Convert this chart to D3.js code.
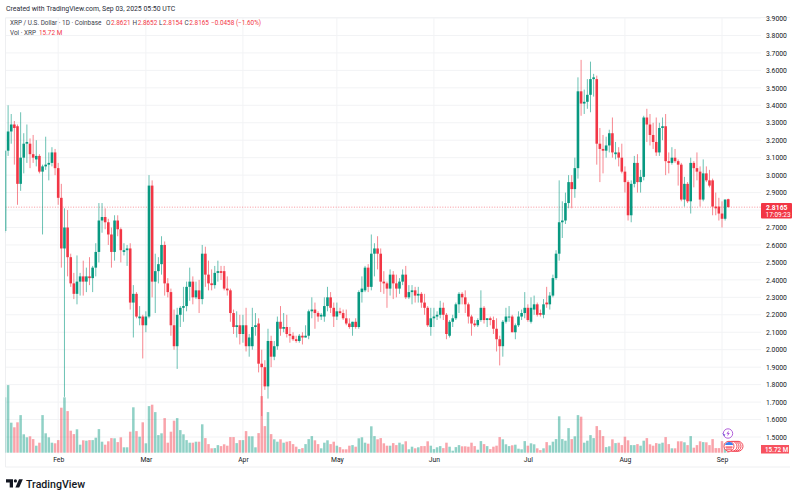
<!DOCTYPE html>
<html>
<head>
<meta charset="utf-8">
<script src="https://cdn.jsdelivr.net/npm/d3@7/dist/d3.min.js"></script>
<style>
html,body{margin:0;padding:0;background:#fff;}
svg{display:block;}
text{font-family:Roboto,"Liberation Sans",sans-serif;}
</style>
</head>
<body>
<div id="chart"></div>
<script>
// daily candles, Jan 15 2025 to Sep 03 2025. ten per line
var firstDay = "2025-01-15";
var opens = [
2.68,3.14,3.25,3.29,3.28,2.95,3.10,3.18,3.18,3.12,
3.09,3.11,3.02,3.05,3.06,3.07,3.13,3.04,2.87,2.58,
2.70,2.53,2.38,2.32,2.39,2.42,2.39,2.42,2.41,2.47,
2.56,2.74,2.76,2.73,2.66,2.56,2.74,2.69,2.56,2.57,
2.58,2.27,2.32,2.18,2.19,2.14,2.19,2.94,2.39,2.45,
2.49,2.60,2.38,2.33,2.14,2.02,2.20,2.24,2.25,2.36,
2.39,2.30,2.34,2.29,2.55,2.43,2.38,2.37,2.44,2.45,
2.45,2.35,2.34,2.21,2.13,2.14,2.09,2.14,2.02,2.02,
2.13,2.15,1.92,1.90,1.79,2.05,1.96,2.02,2.16,2.12,
2.13,2.09,2.08,2.06,2.05,2.08,2.07,2.08,2.22,2.23,
2.21,2.19,2.19,2.25,2.30,2.24,2.19,2.22,2.21,2.18,
2.15,2.13,2.16,2.13,2.33,2.34,2.47,2.36,2.55,2.58,
2.55,2.39,2.38,2.35,2.43,2.38,2.35,2.39,2.43,2.30,
2.33,2.34,2.31,2.32,2.27,2.24,2.13,2.18,2.19,2.20,
2.24,2.20,2.08,2.16,2.18,2.26,2.32,2.30,2.26,2.19,
2.15,2.14,2.17,2.24,2.17,2.18,2.17,2.12,2.06,2.02,
2.16,2.19,2.19,2.10,2.14,2.19,2.21,2.24,2.16,2.23,
2.26,2.21,2.20,2.27,2.26,2.31,2.41,2.55,2.73,2.74,
2.84,2.96,2.92,3.04,3.48,3.41,3.42,3.46,3.55,3.55,
3.18,3.15,3.14,3.17,3.24,3.12,3.13,3.10,3.02,2.96,
2.77,2.95,3.07,2.96,2.99,3.33,3.29,3.23,3.19,3.13,
3.27,3.28,3.08,3.07,3.10,3.08,3.06,2.86,2.95,2.85,
3.07,3.04,3.02,2.86,3.01,2.97,2.97,2.82,2.82,2.78,
2.75,2.8621];
var highs = [
3.14,3.40,3.35,3.31,3.29,3.36,3.24,3.29,3.21,3.23,
3.20,3.12,3.06,3.22,3.13,3.16,3.15,3.07,2.95,2.81,
2.80,2.55,2.44,2.54,2.44,2.51,2.47,2.53,2.48,2.61,
2.84,2.84,2.81,2.75,2.70,2.77,2.77,2.70,2.61,2.60,
2.61,2.37,2.33,2.25,2.20,2.22,3.00,2.97,2.55,2.53,
2.65,2.62,2.41,2.35,2.23,2.24,2.25,2.36,2.39,2.47,
2.42,2.39,2.40,2.60,2.59,2.51,2.46,2.48,2.51,2.48,
2.48,2.42,2.35,2.23,2.22,2.20,2.20,2.24,2.09,2.24,
2.21,2.18,2.00,1.94,2.12,2.08,2.05,2.19,2.25,2.21,
2.20,2.13,2.10,2.08,2.09,2.10,2.14,2.23,2.30,2.27,
2.22,2.21,2.30,2.36,2.33,2.27,2.27,2.24,2.23,2.23,
2.18,2.16,2.18,2.34,2.42,2.48,2.49,2.66,2.61,2.65,
2.58,2.45,2.39,2.46,2.45,2.43,2.41,2.46,2.48,2.37,
2.37,2.36,2.36,2.33,2.32,2.25,2.24,2.24,2.22,2.28,
2.27,2.21,2.17,2.20,2.27,2.33,2.33,2.34,2.27,2.20,
2.17,2.18,2.34,2.25,2.18,2.19,2.19,2.18,2.08,2.17,
2.24,2.25,2.20,2.15,2.22,2.23,2.33,2.26,2.30,2.31,
2.27,2.23,2.29,2.36,2.33,2.43,2.57,2.97,2.85,2.90,
3.00,3.00,3.10,3.56,3.66,3.49,3.55,3.65,3.58,3.57,
3.27,3.23,3.22,3.26,3.33,3.19,3.16,3.18,3.05,2.97,
2.97,3.11,3.12,3.03,3.34,3.38,3.35,3.30,3.33,3.30,
3.33,3.35,3.13,3.16,3.15,3.09,3.07,2.99,2.96,3.10,
3.08,3.13,3.05,3.09,3.05,3.03,2.98,2.90,2.87,2.85,
2.86,2.8652];
var lows = [
2.67,3.11,3.18,3.06,2.83,2.91,3.01,3.07,3.04,3.07,
3.05,3.01,2.66,3.03,2.97,3.05,3.00,2.83,2.47,1.73,
2.42,2.36,2.29,2.26,2.31,2.31,2.33,2.37,2.33,2.42,
2.50,2.67,2.69,2.60,2.47,2.51,2.65,2.50,2.54,2.48,
2.23,2.07,2.18,2.14,1.95,2.10,2.18,2.30,2.21,2.38,
2.43,2.31,2.30,2.08,2.00,1.89,2.13,2.16,2.22,2.28,
2.26,2.29,2.21,2.26,2.36,2.34,2.34,2.35,2.39,2.40,
2.34,2.31,2.16,2.09,2.07,2.03,2.04,1.99,1.96,2.00,
2.08,1.87,1.62,1.77,1.72,1.90,1.94,2.00,2.08,2.10,
2.07,2.04,2.05,2.04,2.04,2.03,2.07,2.06,2.18,2.12,
2.16,2.17,2.16,2.22,2.21,2.13,2.17,2.20,2.17,2.14,
2.12,2.08,2.12,2.12,2.27,2.33,2.33,2.34,2.42,2.46,
2.33,2.32,2.24,2.31,2.29,2.30,2.32,2.37,2.29,2.29,
2.26,2.27,2.27,2.24,2.20,2.13,2.08,2.13,2.17,2.18,
2.17,2.06,2.07,2.13,2.17,2.21,2.26,2.21,2.15,2.08,
2.13,2.13,2.16,2.15,2.13,2.14,2.09,1.99,1.91,1.96,
2.15,2.16,2.10,2.06,2.13,2.17,2.18,2.16,2.15,2.20,
2.19,2.19,2.18,2.24,2.23,2.30,2.40,2.51,2.64,2.72,
2.81,2.81,2.87,2.98,3.34,3.35,3.38,3.36,3.45,3.06,
2.96,3.01,3.10,3.13,3.10,3.09,3.05,3.01,2.90,2.74,
2.73,2.93,2.90,2.90,2.97,3.19,3.17,3.15,3.11,3.11,
3.20,3.00,3.01,3.06,3.07,2.94,2.85,2.82,2.84,2.78,
2.93,2.97,2.82,2.85,2.96,2.93,2.77,2.77,2.74,2.70,
2.74,2.8154];
var closes = [
3.14,3.25,3.29,3.27,2.95,3.10,3.18,3.19,3.12,3.10,
3.11,3.02,3.05,3.06,3.07,3.13,3.04,2.87,2.58,2.70,
2.53,2.38,2.32,2.39,2.42,2.39,2.42,2.41,2.47,2.56,
2.74,2.76,2.73,2.66,2.56,2.74,2.69,2.57,2.57,2.58,
2.27,2.32,2.19,2.19,2.14,2.19,2.94,2.39,2.45,2.49,
2.60,2.38,2.33,2.14,2.02,2.20,2.24,2.25,2.36,2.39,
2.30,2.34,2.29,2.55,2.43,2.38,2.37,2.44,2.45,2.44,
2.35,2.34,2.21,2.13,2.14,2.09,2.14,2.02,2.07,2.13,
2.14,1.92,1.90,1.79,2.05,1.96,2.02,2.16,2.12,2.13,
2.09,2.08,2.06,2.05,2.08,2.07,2.08,2.22,2.23,2.21,
2.19,2.20,2.25,2.30,2.24,2.19,2.22,2.21,2.18,2.15,
2.13,2.16,2.13,2.33,2.35,2.47,2.36,2.55,2.58,2.55,
2.39,2.38,2.35,2.43,2.38,2.35,2.39,2.43,2.30,2.33,
2.34,2.31,2.32,2.27,2.24,2.14,2.18,2.19,2.20,2.24,
2.20,2.09,2.16,2.18,2.26,2.32,2.30,2.26,2.19,2.15,
2.14,2.17,2.24,2.17,2.18,2.17,2.12,2.06,2.02,2.16,
2.19,2.19,2.10,2.14,2.19,2.21,2.24,2.17,2.24,2.26,
2.20,2.20,2.26,2.26,2.31,2.41,2.55,2.73,2.74,2.84,
2.96,2.92,3.04,3.48,3.41,3.42,3.46,3.55,3.56,3.18,
3.15,3.14,3.17,3.24,3.13,3.13,3.10,3.02,2.96,2.77,
2.95,3.07,2.96,2.99,3.33,3.29,3.23,3.19,3.13,3.27,
3.28,3.08,3.07,3.10,3.08,3.06,2.86,2.95,2.85,3.07,
3.04,3.02,2.86,3.01,2.97,2.94,2.82,2.81,2.78,2.75,
2.86,2.8165];
// volume in millions
var volumes = [
277,338,150,127,152,188,92,77,82,68,
35,50,188,97,77,50,47,63,225,277,
208,110,93,117,40,62,60,63,63,75,
118,55,40,57,73,72,53,77,27,27,
105,227,108,80,152,47,233,240,203,88,
97,173,50,105,160,173,113,92,63,50,
50,55,55,142,73,43,22,23,38,33,
42,35,78,78,48,63,63,108,82,82,
27,98,283,133,203,93,67,55,67,50,
55,58,43,30,18,23,43,68,83,62,
43,22,50,62,43,55,35,28,17,17,
35,38,30,72,77,50,45,132,83,67,
73,47,35,35,48,38,50,42,57,17,
30,22,27,33,33,57,35,18,27,33,
23,50,30,10,28,38,32,32,30,50,
33,15,58,43,33,18,30,35,78,67,
42,33,37,40,20,17,58,35,47,42,
22,13,22,53,37,55,68,182,68,60,
123,68,82,188,180,50,60,88,73,133,
113,83,28,32,67,48,50,38,80,62,
38,38,43,35,60,73,42,35,48,45,
50,78,43,22,22,57,57,52,38,83,
25,38,57,53,52,38,68,23,23,58,
47,15.72];
var priceTicks = [1.5,1.6,1.7,1.8,1.9,2.0,2.1,2.2,2.3,2.4,2.5,2.6,2.7,2.9,3.0,3.1,3.2,3.3,3.4,3.5,3.6,3.7,3.8,3.9];
var gridPrices = [1.5,1.6,1.7,1.8,1.9,2.0,2.1,2.2,2.3,2.4,2.5,2.6,2.7,2.8,2.9,3.0,3.1,3.2,3.3,3.4,3.5,3.6,3.7,3.8,3.9];
var monthTicks = ["2025-02-01","2025-03-01","2025-04-01","2025-05-01","2025-06-01","2025-07-01","2025-08-01","2025-09-01"];
var lastPrice = 2.8165;
var lastVolume = 15.72;
var countdown = "17:09:23";

var upColor = "#089981", downColor = "#f23645";
var width = 800, height = 500;
var left = 5.5, right = 761, top_ = 18, volBase = 452.7, bottom = 467;

var svg = d3.select("#chart").append("svg").attr("width", width).attr("height", height);

var parse = d3.utcParse("%Y-%m-%d");
var monthDates = monthTicks.map(parse);
var x = d3.scaleUtc().domain([monthDates[0], monthDates[7]]).range([58.2, 722]);
var y = d3.scaleLinear().domain([1.5, 3.9]).range([437, 18]);
var yVol = d3.scaleLinear().domain([0, 283]).range([volBase, volBase - 56.6]);

var candles = closes.map(function(c, i) {
    return {date: d3.utcDay.offset(parse(firstDay), i), o: opens[i], h: highs[i], l: lows[i], c: c, v: volumes[i]};
});

svg.append("defs").append("clipPath").attr("id", "plot")
    .append("rect").attr("x", left).attr("y", top_).attr("width", right - left).attr("height", bottom - top_);

// frame and grid
var grid = svg.append("g").attr("stroke", "#f2f3f5").attr("stroke-width", 1);
grid.selectAll(".h").data(gridPrices).enter().append("line")
    .attr("x1", left).attr("x2", right).attr("y1", function(d) {return y(d);}).attr("y2", function(d) {return y(d);});
grid.selectAll(".v").data(monthDates).enter().append("line")
    .attr("y1", top_).attr("y2", 454).attr("x1", function(d) {return x(d);}).attr("x2", function(d) {return x(d);});
grid.append("path").attr("fill", "none").attr("stroke", "#eeeff1")
    .attr("d", "M5.5 18V467H790");
grid.append("line").attr("x1", 5.5).attr("x2", 790).attr("y1", 17.5).attr("y2", 17.5);

var plot = svg.append("g").attr("clip-path", "url(#plot)");

// volume
plot.selectAll(".vol").data(candles).enter().append("rect")
    .attr("x", function(d) {return x(d.date) - 1.25;})
    .attr("width", 2.5)
    .attr("y", function(d) {return yVol(d.v);})
    .attr("height", function(d) {return volBase - yVol(d.v);})
    .attr("fill", function(d) {return d.c >= d.o ? upColor : downColor;})
    .attr("opacity", 0.45);

// last price line
plot.append("line").attr("x1", left).attr("x2", right)
    .attr("y1", y(lastPrice)).attr("y2", y(lastPrice))
    .attr("stroke", downColor).attr("stroke-width", 0.7).attr("stroke-dasharray", "1,1.6").attr("opacity", 0.75);

// candles
plot.selectAll(".wick").data(candles).enter().append("line")
    .attr("x1", function(d) {return x(d.date);})
    .attr("x2", function(d) {return x(d.date);})
    .attr("y1", function(d) {return y(d.h);})
    .attr("y2", function(d) {return y(d.l);})
    .attr("stroke-width", 0.6)
    .attr("stroke", function(d) {return d.c >= d.o ? upColor : downColor;});
plot.selectAll(".body").data(candles).enter().append("rect")
    .attr("x", function(d) {return x(d.date) - 1.3;})
    .attr("width", 2.6)
    .attr("y", function(d) {return y(Math.max(d.o, d.c));})
    .attr("height", function(d) {return Math.max(1, Math.abs(y(d.o) - y(d.c)));})
    .attr("fill", function(d) {return d.c >= d.o ? upColor : downColor;});

// axes
var yAxis = d3.axisRight(y).tickValues(priceTicks).tickFormat(d3.format(".4f")).tickSize(0).tickPadding(0);
var gy = svg.append("g").attr("transform", "translate(766,0)").call(yAxis);
gy.select(".domain").remove();
gy.selectAll("text").attr("font-size", 6.8).attr("fill", "#131722").attr("font-family", "Roboto");

var xAxis = d3.axisBottom(x).tickValues(monthDates).tickFormat(d3.utcFormat("%b")).tickSize(0).tickPadding(0);
var gx = svg.append("g").attr("transform", "translate(0,457)").call(xAxis);
gx.select(".domain").remove();
gx.selectAll("text").attr("font-size", 6.8).attr("fill", "#131722").attr("font-family", "Roboto");

// last value labels
svg.append("rect").attr("x", 761).attr("y", 203).attr("width", 31).attr("height", 15.5).attr("rx", 1).attr("fill", downColor);
svg.append("text").attr("x", 766).attr("y", 209.5).attr("fill", "#fff").attr("font-size", 6.8).attr("font-weight", 700).text(lastPrice.toFixed(4));
svg.append("text").attr("x", 765.5).attr("y", 216.5).attr("fill", "#fff").attr("font-size", 6.5).text(countdown);
svg.append("rect").attr("x", 761).attr("y", 445).attr("width", 28).attr("height", 8.5).attr("fill", "#f7525f");
svg.append("text").attr("x", 765).attr("y", 451.7).attr("fill", "#fff").attr("font-size", 6.3).attr("font-weight", 500).text(lastVolume + " M");

// event icons near the last bar
var icons = svg.append("g");
icons.append("circle").attr("cx", 728).attr("cy", 433.5).attr("r", 4.7).attr("fill", "#fff").attr("stroke", "#a94fd6").attr("stroke-width", 0.9);
icons.append("path").attr("d", "M728.8 430.4l-2.4 3.4h1.6l-.8 2.8 2.6-3.6h-1.6z").attr("fill", "#a94fd6");
icons.append("path").attr("d", "M722 433l2.4 1.4 1-.4-1 2.2-2.4-3.2z").attr("fill", "#6a4fd6");
[738, 736, 734, 732, 729].forEach(function(cx) {
    icons.append("circle").attr("cx", cx).attr("cy", 446.3).attr("r", 5)
        .attr("fill", "#fff").attr("stroke", downColor).attr("stroke-width", 0.9);
});
icons.append("path").attr("d", "M725 446a4.2 4.2 0 0 1 8.2-1h-8z").attr("fill", "#3b82f0");
icons.append("rect").attr("x", 725.5).attr("y", 446.4).attr("width", 7).attr("height", 1.4).attr("fill", "#f7525f");
icons.append("rect").attr("x", 726).attr("y", 448.5).attr("width", 6).attr("height", 1.2).attr("fill", "#f7525f");

// header
svg.append("text").attr("x", 6).attr("y", 11.3).attr("font-size", 6.9).attr("fill", "#2a2e39").text("Created with TradingView.com, Sep 03, 2025 05:50 UTC");
var legend = svg.append("text").attr("x", 10).attr("y", 25).attr("font-size", 6.4).attr("fill", "#3a3e49");
legend.append("tspan").text("XRP / U.S. Dollar · 1D · Coinbase");
[["O", "2.8621", 106], ["H", "2.8652", 132.5], ["L", "2.8154", 159], ["C", "2.8165", 184.5]].forEach(function(p) {
    legend.append("tspan").attr("x", p[2]).text(p[0]);
    legend.append("tspan").attr("fill", downColor).attr("dx", 0.6).text(p[1]);
});
legend.append("tspan").attr("x", 211).attr("fill", downColor).text("−0.0458 (−1.60%)");
svg.append("text").attr("x", 10).attr("y", 34.5).attr("font-size", 6.4).attr("fill", "#3a3e49").text("Vol · XRP");
svg.append("text").attr("x", 39).attr("y", 34.5).attr("font-size", 6.4).attr("fill", downColor).text(lastVolume + " M");

// logo
var logo = svg.append("g").attr("fill", "#131722");
logo.append("path").attr("d", "M6 479.3h7v8.2h-3.3v-5H6z");
logo.append("circle").attr("cx", 15.4).attr("cy", 480.9).attr("r", 1.6);
logo.append("path").attr("d", "M19 479.3h3.8l-3.6 8.2h-3.8z");
svg.append("text").attr("x", 26).attr("y", 487.5).attr("font-size", 10.6).attr("font-weight", 500).attr("fill", "#131722").text("TradingView");
</script>
</body>
</html>
